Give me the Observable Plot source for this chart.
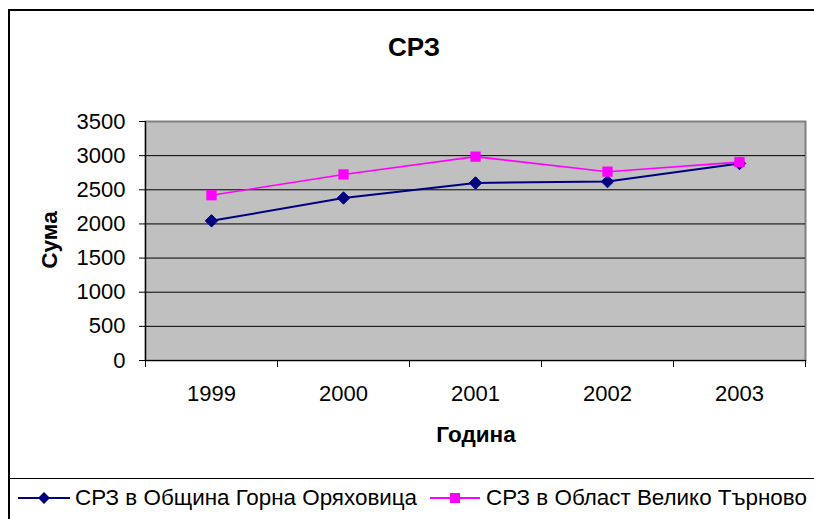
<!DOCTYPE html>
<html>
<head>
<meta charset="utf-8">
<script src="https://cdn.jsdelivr.net/npm/d3@7"></script>
<script src="https://cdn.jsdelivr.net/npm/@observablehq/plot@0.6"></script>
<style>
  html, body { margin: 0; padding: 0; background: #fff; }
  #wrap { position: relative; width: 814px; height: 519px; overflow: hidden; background: #fff;
          font-family: "Liberation Sans", Arial, sans-serif; color: #000; }
  #frame { position: absolute; left: 8px; top: 9px; width: 900px; height: 600px;
           border-left: 2px solid #000; border-top: 2px solid #000; box-sizing: border-box; }
  #legline { position: absolute; left: 9px; top: 478px; width: 900px; height: 0; border-top: 1px solid #000; }
  #title { position: absolute; left: 414px; top: 47px; transform: translate(-50%, -50%);
           font-weight: bold; font-size: 26px; white-space: nowrap; }
  #ylab { position: absolute; left: 50px; top: 240px; font-weight: bold; font-size: 22.5px;
          transform: translate(-50%, -50%) rotate(-90deg); white-space: nowrap; }
  #xlab { position: absolute; left: 476px; top: 435px; font-weight: bold; font-size: 22.5px;
          transform: translate(-50%, -50%); white-space: nowrap; }
  #chart { position: absolute; left: 0; top: 0; }
  .leg { position: absolute; top: 498px; transform: translateY(-50%); font-size: 22.4px; white-space: nowrap; }
  .legsw { position: absolute; top: 490px; }
</style>
</head>
<body>
<div id="wrap">
  <div id="frame"></div>
  <div id="chart"></div>
  <div id="title"></div>
  <div id="ylab"></div>
  <div id="xlab"></div>
  <div id="legline"></div>
  <div id="legend"></div>
</div>
<script>
const years = [1999, 2000, 2001, 2002, 2003];
const obshtina = [2045, 2380, 2600, 2620, 2885];
const oblast = [2420, 2725, 2985, 2765, 2905];
const yTicks = [0, 500, 1000, 1500, 2000, 2500, 3000, 3500];
const seriesNames = ["СРЗ в Община Горна Оряховица", "СРЗ в Област Велико Търново"];
const seriesColors = ["#000080", "#FF00FF"];
const titleText = "СРЗ";
const yTitle = "Сума";
const xTitle = "Година";

document.getElementById("title").textContent = titleText;
document.getElementById("ylab").textContent = yTitle;
document.getElementById("xlab").textContent = xTitle;

const rowsA = years.map((y, i) => ({year: y, value: obshtina[i]}));
const rowsB = years.map((y, i) => ({year: y, value: oblast[i]}));
const bounds = [years[0] - 0.5, ...years.map(y => y + 0.5)];

const chart = Plot.plot({
  width: 814,
  height: 479,
  marginLeft: 145,
  marginRight: 9,
  marginTop: 121,
  marginBottom: 119,
  x: {domain: [bounds[0], bounds[bounds.length - 1]]},
  y: {domain: [0, 3500]},
  style: {fontFamily: "'Liberation Sans', Arial, sans-serif", fontSize: "22px", color: "#000", background: "transparent", overflow: "visible"},
  marks: [
    Plot.frame({fill: "#C0C0C0"}),
    Plot.frame({stroke: "#808080", strokeWidth: 2}),
    Plot.ruleY(yTicks.slice(1, -1), {stroke: "#000", strokeWidth: 1}),
    Plot.ruleX([bounds[0]], {stroke: "#000", strokeWidth: 1.2}),
    Plot.ruleY([0], {stroke: "#000", strokeWidth: 1.2}),
    Plot.axisY({ticks: yTicks, tickSize: 6, tickPadding: 14, label: null, tickFormat: d => String(d), stroke: "#000", strokeOpacity: 1}),
    Plot.axisX({ticks: bounds, tickSize: 7, tickFormat: () => "", label: null, stroke: "#000", strokeOpacity: 1}),
    Plot.axisX({ticks: years, tickSize: 0, tickPadding: 25, label: null, tickFormat: d => String(d)}),
    Plot.line(rowsA, {x: "year", y: "value", stroke: seriesColors[0], strokeWidth: 2}),
    Plot.dot(rowsA, {x: "year", y: "value", symbol: "diamond2", r: 5.6, fill: seriesColors[0], stroke: seriesColors[0], strokeWidth: 1}),
    Plot.line(rowsB, {x: "year", y: "value", stroke: seriesColors[1], strokeWidth: 1.6}),
    Plot.dot(rowsB, {x: "year", y: "value", symbol: "square", r: 5.5, fill: seriesColors[1], stroke: seriesColors[1], strokeWidth: 0.5})
  ]
});
document.getElementById("chart").appendChild(chart);

// legend
const legend = document.getElementById("legend");
const legItems = [
  {x0: 18, x1: 70, tx: 75, shape: "diamond"},
  {x0: 430, x1: 480, tx: 486, shape: "square"}
];
legItems.forEach((it, i) => {
  const w = it.x1 - it.x0;
  const mid = w / 2;
  const marker = it.shape === "diamond"
    ? `<path d="M${mid},2 L${mid + 6},8 L${mid},14 L${mid - 6},8 Z" fill="${seriesColors[i]}"/>`
    : `<rect x="${mid - 5}" y="3" width="10" height="10" fill="${seriesColors[i]}"/>`;
  const sw = document.createElement("div");
  sw.className = "legsw";
  sw.style.left = it.x0 + "px";
  sw.innerHTML = `<svg width="${w}" height="16"><line x1="0" x2="${w}" y1="8" y2="8" stroke="${seriesColors[i]}" stroke-width="2"/>${marker}</svg>`;
  legend.appendChild(sw);
  const t = document.createElement("div");
  t.className = "leg";
  t.style.left = it.tx + "px";
  t.textContent = seriesNames[i];
  legend.appendChild(t);
});
</script>
</body>
</html>
